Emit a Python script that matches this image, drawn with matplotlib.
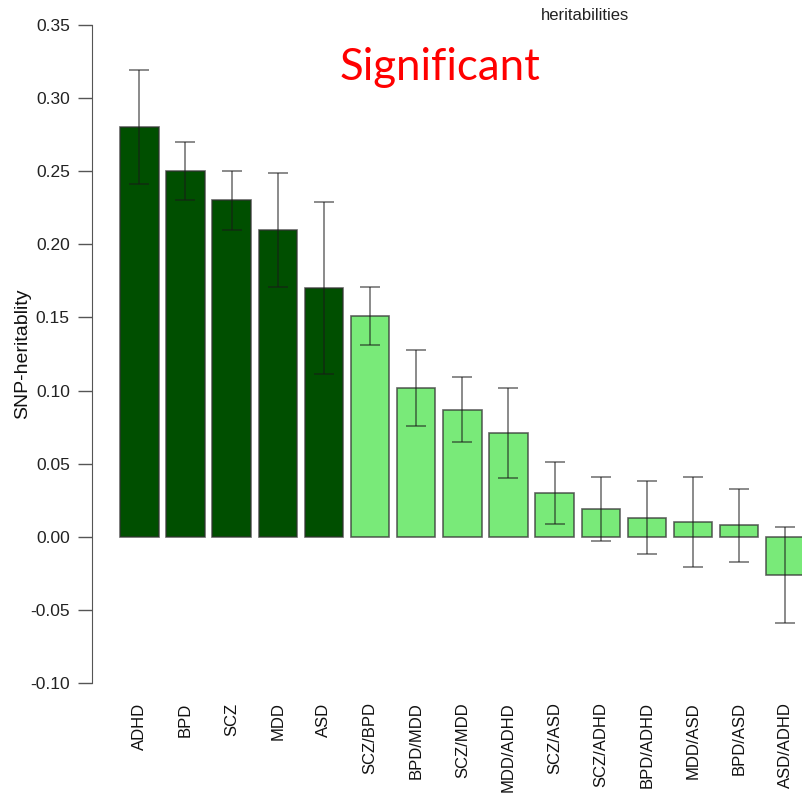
import matplotlib
matplotlib.use("Agg")
import matplotlib.pyplot as plt
import numpy as np

# SNP-heritability estimates (single disorders and pairwise combinations)
labels = ["ADHD", "BPD", "SCZ", "MDD", "ASD",
          "SCZ/BPD", "BPD/MDD", "SCZ/MDD", "MDD/ADHD", "SCZ/ASD",
          "SCZ/ADHD", "BPD/ADHD", "MDD/ASD", "BPD/ASD", "ASD/ADHD"]
h2 = [0.280, 0.250, 0.230, 0.210, 0.170,
      0.151, 0.102, 0.087, 0.071, 0.030,
      0.019, 0.013, 0.010, 0.008, -0.026]
h2_se = [0.039, 0.020, 0.020, 0.039, 0.059,
         0.020, 0.026, 0.022, 0.031, 0.021,
         0.022, 0.025, 0.031, 0.025, 0.033]
significant = [True] * 5 + [False] * 10

yticks = [-0.10, -0.05, 0.00, 0.05, 0.10, 0.15, 0.20, 0.25, 0.30, 0.35]

W, H = 803, 793
fig = plt.figure(figsize=(W / 100, H / 100), dpi=100)

# axes: x from the y-axis line to the right edge, y from 0.35 down to -0.10
left_px, right_px = 92, 803
top_px, bot_px = 25, 683
ax = fig.add_axes([left_px / W, 1 - bot_px / H,
                   (right_px - left_px) / W, (bot_px - top_px) / H])

# R barplot geometry: width 1, space 0.2
x = 0.2 + 1.2 * np.arange(len(labels)) + 0.5
colors = ["#004f00" if s else "#79ea79" for s in significant]
ax.bar(x, h2, width=1.0, color=colors, edgecolor=(0.2, 0.2, 0.2, 0.75),
       linewidth=1.2, zorder=2)
ax.errorbar(x, h2, yerr=h2_se, fmt="none", ecolor=(0.1, 0.1, 0.1, 0.55),
            elinewidth=1.3, capsize=7, capthick=1.3, zorder=3)

ax.set_xlim(-0.53, 17.96)
ax.set_ylim(-0.10, 0.35)
ax.set_yticks(yticks)
ax.set_yticklabels([f"{v:.2f}" for v in yticks], fontfamily="Liberation Sans",
                   fontsize=12.5, color="#222222")
ax.set_xticks(x)
ax.set_xticklabels(labels, rotation=90, fontfamily="Liberation Sans",
                   fontsize=12, color="#111111", va="top")
ax.tick_params(axis="x", length=0, pad=14)
ax.tick_params(axis="y", length=10, width=1, color="#555555", pad=6)

for s in ["top", "right", "bottom"]:
    ax.spines[s].set_visible(False)
ax.spines["left"].set_color("#555555")
ax.spines["left"].set_bounds(-0.10, 0.35)

ax.set_ylabel("SNP-heritablity", fontfamily="Liberation Sans", fontsize=14,
              color="#111111", labelpad=-1)

fig.text(585 / W, 1 - 15 / H, "heritabilities", fontfamily="Liberation Sans",
         fontsize=12, color="#222222", ha="center", va="center")
fig.text(440 / W, 1 - 68 / H, "Significant", fontfamily="Lato",
         fontsize=31.5, color="#ff0000", ha="center", va="center")

fig.savefig("out.png", dpi=100)
